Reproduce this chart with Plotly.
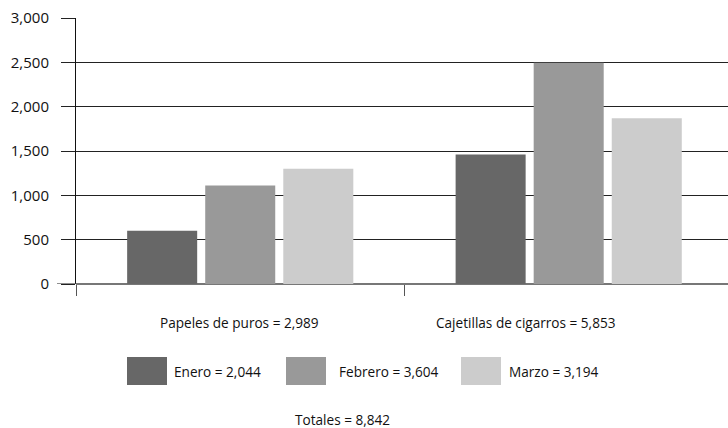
import plotly.graph_objects as go

# Data
categories = ["Papeles de puros", "Cajetillas de cigarros"]
series_names = ["Enero", "Febrero", "Marzo"]
enero = [600, 1460]
febrero = [1110, 2495]
marzo = [1300, 1870]
series_values = [enero, febrero, marzo]
series_colors = ["#676767", "#999999", "#cccccc"]
category_labels = ["Papeles de puros = 2,989", "Cajetillas de cigarros = 5,853"]
legend_labels = ["Enero = 2,044", "Febrero = 3,604", "Marzo = 3,194"]
total_label = "Totales = 8,842"
y_ticks = [0, 500, 1000, 1500, 2000, 2500, 3000]
y_ticktext = ["0", "500", "1,000", "1,500", "2,000", "2,500", "3,000"]

W, H = 728, 428
L, T, B, R = 76, 18, 144, 0
PW, PH = W - L - R, H - T - B
FONT = "Open Sans"

def xp(px):
    return (px - L) / PW

def yp(py):
    return (H - B - py) / PH

fig = go.Figure()
x_pos = list(range(len(categories)))
for name, vals, col in zip(series_names, series_values, series_colors):
    fig.add_trace(go.Bar(x=x_pos, y=vals, name=name, marker=dict(color=col, line=dict(width=0)),
                         showlegend=False, hoverinfo="y"))

annotations = []
shapes = []
# category labels
for lab, cx in zip(category_labels, [239.5, 525.5]):
    annotations.append(dict(text=lab, x=xp(cx), y=yp(322), xref="paper", yref="paper",
                            xanchor="center", yanchor="middle", showarrow=False,
                            font=dict(size=13.6, color="#111", family=FONT)))
# legend
sq_x = [127, 286, 461]
txt_x = [172, 337, 507]
for lab, col, sx, tx in zip(legend_labels, series_colors, sq_x, txt_x):
    shapes.append(dict(type="rect", xref="paper", yref="paper", x0=xp(sx), x1=xp(sx + 40),
                       y0=yp(385), y1=yp(357), fillcolor=col, line=dict(width=0)))
    annotations.append(dict(text=lab, x=xp(tx), y=yp(371), xref="paper", yref="paper",
                            xanchor="left", yanchor="middle", showarrow=False,
                            font=dict(size=13.6, color="#111", family=FONT)))
annotations.append(dict(text=total_label, x=xp(342), y=yp(419), xref="paper", yref="paper",
                        xanchor="center", yanchor="middle", showarrow=False,
                        font=dict(size=13.6, color="#111", family=FONT)))
# longer tick at zero
shapes.append(dict(type="line", xref="paper", yref="y", x0=xp(57), x1=0, y0=0, y1=0,
                   line=dict(color="#444", width=1.2)))

fig.update_layout(
    width=W, height=H,
    margin=dict(l=L, r=R, t=T, b=B, pad=0),
    paper_bgcolor="white", plot_bgcolor="white",
    barmode="group", bargap=0.287, bargroupgap=0.103,
    font=dict(family=FONT, size=14, color="#111"),
    annotations=annotations, shapes=shapes,
    xaxis=dict(range=[-0.5, 1.485], showgrid=False, zeroline=False,
               tickvals=[-0.5, 0.5], ticktext=["", ""], ticks="outside", ticklen=11,
               tickcolor="#555", tickwidth=1, showline=False, fixedrange=True),
    yaxis=dict(range=[0, 3000], tickvals=y_ticks, ticktext=y_ticktext,
               showgrid=True, gridcolor="#222", gridwidth=1,
               zeroline=True, zerolinecolor="#777", zerolinewidth=1.5,
               showline=True, linecolor="#111", linewidth=1,
               ticks="outside", ticklen=14, tickcolor="#222", tickwidth=1,
               ticklabelstandoff=9,
               tickfont=dict(size=15, color="#111", family=FONT)),
)

fig.write_html("out.html", config={"displayModeBar": False},
               post_script="document.body.style.margin='0';document.body.style.padding='0';")
